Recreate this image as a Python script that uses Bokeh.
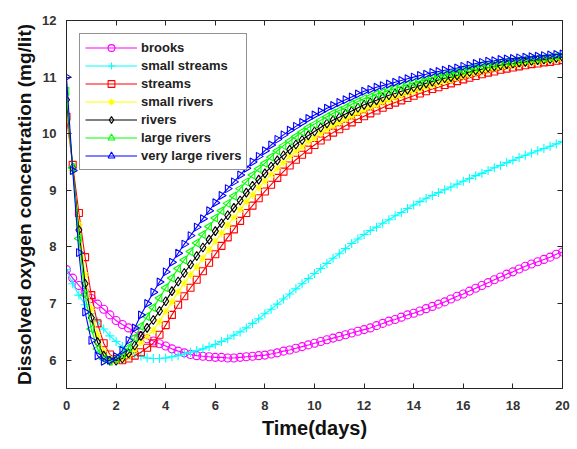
import numpy as np
from bokeh.plotting import figure
from bokeh.models import LinearAxis, Range1d, FixedTicker, Legend
from bokeh.embed import file_html
from bokeh.resources import INLINE

t = [i * 0.25 for i in range(81)]

brooks = [7.6, 7.45, 7.32, 7.2, 7.09, 6.99, 6.9, 6.8, 6.7, 6.63, 6.57, 6.5, 6.43, 6.38, 6.34, 6.29,
          6.25, 6.2, 6.16, 6.13, 6.1, 6.08, 6.07, 6.06, 6.05, 6.05, 6.04, 6.04, 6.05, 6.06, 6.07, 6.08,
          6.09, 6.11, 6.13, 6.16, 6.18, 6.21, 6.24, 6.27, 6.3, 6.33, 6.36, 6.39, 6.42, 6.45, 6.48, 6.51,
          6.54, 6.57, 6.61, 6.65, 6.69, 6.72, 6.76, 6.8, 6.83, 6.87, 6.91, 6.95, 6.99, 7.03, 7.08, 7.13,
          7.17, 7.22, 7.27, 7.32, 7.37, 7.42, 7.47, 7.52, 7.56, 7.61, 7.66, 7.7, 7.74, 7.78, 7.82, 7.87, 7.91]

small_streams = [7.6, 7.35, 7.15, 6.98, 6.82, 6.68, 6.55, 6.43, 6.33, 6.24, 6.17, 6.11, 6.07, 6.04, 6.03, 6.03,
                 6.04, 6.06, 6.08, 6.11, 6.14, 6.17, 6.2, 6.24, 6.28, 6.33, 6.38, 6.44, 6.5, 6.57, 6.65, 6.73,
                 6.82, 6.9, 6.99, 7.08, 7.17, 7.26, 7.35, 7.44, 7.53, 7.62, 7.71, 7.8, 7.88, 7.97, 8.06, 8.14,
                 8.22, 8.29, 8.35, 8.42, 8.48, 8.55, 8.61, 8.68, 8.74, 8.8, 8.86, 8.91, 8.96, 9.01, 9.06, 9.11,
                 9.16, 9.21, 9.26, 9.3, 9.35, 9.4, 9.44, 9.49, 9.53, 9.58, 9.62, 9.66, 9.7, 9.74, 9.78, 9.82, 9.86]

streams = [10.3, 9.45, 8.6, 7.82, 7.15, 6.65, 6.3, 6.1, 6.02, 6.0, 6.03, 6.08, 6.14, 6.22, 6.3, 6.45,
           6.62, 6.8, 6.98, 7.13, 7.28, 7.42, 7.57, 7.72, 7.87, 8.02, 8.17, 8.31, 8.46, 8.6, 8.73, 8.86,
           8.98, 9.1, 9.22, 9.33, 9.44, 9.54, 9.63, 9.72, 9.8, 9.88, 9.95, 10.02, 10.08, 10.14, 10.2, 10.26,
           10.31, 10.36, 10.41, 10.46, 10.51, 10.55, 10.59, 10.63, 10.67, 10.71, 10.75, 10.79, 10.82, 10.86, 10.89, 10.93,
           10.96, 10.99, 11.02, 11.05, 11.08, 11.1, 11.13, 11.15, 11.17, 11.19, 11.21, 11.23, 11.24, 11.26, 11.27, 11.29, 11.3]

small_rivers = [10.5, 9.35, 8.4, 7.5, 6.9, 6.45, 6.15, 6.03, 6.0, 6.02, 6.08, 6.18, 6.32, 6.42, 6.53, 6.68,
                6.86, 7.03, 7.21, 7.36, 7.51, 7.65, 7.8, 7.95, 8.1, 8.24, 8.39, 8.52, 8.66, 8.8, 8.92, 9.05,
                9.16, 9.28, 9.39, 9.49, 9.6, 9.69, 9.77, 9.86, 9.93, 10.01, 10.08, 10.14, 10.2, 10.26, 10.31, 10.37,
                10.42, 10.47, 10.51, 10.56, 10.6, 10.64, 10.68, 10.72, 10.75, 10.79, 10.83, 10.86, 10.89, 10.93, 10.95, 10.99,
                11.02, 11.05, 11.08, 11.1, 11.13, 11.15, 11.18, 11.19, 11.21, 11.23, 11.25, 11.26, 11.27, 11.29, 11.3, 11.32, 11.33]

rivers = [10.6, 9.4, 8.3, 7.35, 6.75, 6.32, 6.08, 5.99, 5.99, 6.03, 6.12, 6.26, 6.43, 6.57, 6.71, 6.87,
          7.04, 7.22, 7.39, 7.54, 7.69, 7.84, 7.99, 8.13, 8.28, 8.42, 8.56, 8.69, 8.82, 8.96, 9.08, 9.19,
          9.3, 9.42, 9.53, 9.62, 9.72, 9.81, 9.89, 9.97, 10.04, 10.11, 10.18, 10.24, 10.29, 10.35, 10.4, 10.46,
          10.51, 10.55, 10.59, 10.64, 10.68, 10.71, 10.75, 10.78, 10.82, 10.85, 10.89, 10.92, 10.95, 10.98, 11.0, 11.03,
          11.06, 11.09, 11.12, 11.14, 11.17, 11.19, 11.21, 11.23, 11.24, 11.26, 11.27, 11.29, 11.3, 11.31, 11.32, 11.34, 11.35]

large_rivers = [10.75, 9.4, 8.15, 7.15, 6.55, 6.2, 6.02, 5.98, 6.02, 6.1, 6.22, 6.4, 6.6, 6.77, 6.93, 7.1,
                7.28, 7.45, 7.62, 7.77, 7.92, 8.07, 8.22, 8.36, 8.51, 8.64, 8.77, 8.9, 9.03, 9.15, 9.27, 9.38,
                9.48, 9.59, 9.7, 9.79, 9.87, 9.95, 10.03, 10.11, 10.17, 10.24, 10.3, 10.36, 10.41, 10.46, 10.52, 10.57,
                10.62, 10.65, 10.7, 10.73, 10.77, 10.8, 10.84, 10.87, 10.9, 10.93, 10.96, 10.99, 11.02, 11.04, 11.07, 11.09,
                11.12, 11.14, 11.17, 11.2, 11.22, 11.23, 11.26, 11.27, 11.28, 11.3, 11.31, 11.32, 11.33, 11.34, 11.35, 11.37, 11.38]

very_large_rivers = [11.0, 9.35, 7.9, 6.85, 6.35, 6.08, 5.98, 6.0, 6.06, 6.17, 6.35, 6.57, 6.8, 7.0, 7.2, 7.38,
                     7.56, 7.73, 7.89, 8.05, 8.2, 8.35, 8.5, 8.64, 8.78, 8.91, 9.03, 9.15, 9.27, 9.39, 9.5, 9.6,
                     9.7, 9.8, 9.9, 9.98, 10.06, 10.13, 10.2, 10.27, 10.33, 10.39, 10.45, 10.5, 10.55, 10.6, 10.65, 10.7,
                     10.75, 10.78, 10.82, 10.85, 10.88, 10.91, 10.94, 10.97, 11.0, 11.03, 11.05, 11.08, 11.1, 11.12, 11.14, 11.16,
                     11.19, 11.21, 11.24, 11.26, 11.28, 11.29, 11.31, 11.32, 11.33, 11.34, 11.35, 11.36, 11.37, 11.38, 11.39, 11.4, 11.41]

names = ["brooks", "small streams", "streams", "small rivers", "rivers", "large rivers", "very large rivers"]
series = [brooks, small_streams, streams, small_rivers, rivers, large_rivers, very_large_rivers]
colors = ["#FF00FF", "#00FFFF", "#FF0000", "#FFFF00", "#000000", "#00FF00", "#0000FF"]
markers = ["circle", "cross", "square", "asterisk", "diamond", "triangle", "triangle"]
angles = [0, 0, 0, 0, 0, np.pi / 2, -np.pi / 2]
sizes = [8, 9, 7, 8, 9, 8, 8]

x_ticks = list(range(0, 21, 2))
y_ticks = [6, 7, 8, 9, 10, 11, 12]

p = figure(width=577, height=449, output_backend="svg", toolbar_location=None,
           x_range=Range1d(0, 20), y_range=Range1d(5.5, 12),
           min_border_left=66, min_border_right=15, min_border_top=20, min_border_bottom=61)
p.grid.visible = False
p.background_fill_color = "white"
p.border_fill_color = "white"
p.outline_line_color = "#262626"
p.outline_line_width = 1

FONT = "Liberation Sans"
for ax in (p.xaxis[0], p.yaxis[0]):
    ax.ticker = FixedTicker(ticks=x_ticks if ax is p.xaxis[0] else y_ticks)
    ax.major_tick_in = 5
    ax.major_tick_out = 0
    ax.minor_tick_line_color = None
    ax.axis_line_color = "#262626"
    ax.major_tick_line_color = "#262626"
    ax.major_label_text_font = FONT
    ax.major_label_text_font_size = "13px"
    ax.major_label_text_font_style = "bold"
    ax.major_label_text_color = "#333333"
    ax.axis_label_text_font = FONT
    ax.axis_label_text_font_style = "bold"
    ax.axis_label_text_color = "#111111"

p.xaxis[0].axis_label = "Time(days)"
p.xaxis[0].axis_label_text_font_size = "20px"
p.xaxis[0].major_label_standoff = 12
p.xaxis[0].axis_label_standoff = 4
p.yaxis[0].axis_label = "Dissolved oxygen concentration (mg/lit)"
p.yaxis[0].axis_label_text_font_size = "19px"
p.yaxis[0].major_label_standoff = 10
p.yaxis[0].axis_label_standoff = 4

for loc, tk in (("above", x_ticks), ("right", y_ticks)):
    ax2 = LinearAxis(ticker=FixedTicker(ticks=tk))
    ax2.major_tick_in = 5
    ax2.major_tick_out = 0
    ax2.minor_tick_line_color = None
    ax2.major_label_text_font_size = "1px"
    ax2.major_label_text_color = None
    ax2.major_label_standoff = 0
    ax2.axis_line_color = "#262626"
    ax2.major_tick_line_color = "#262626"
    p.add_layout(ax2, loc)

items = []
for name, ys, c, m, a, s in zip(names, series, colors, markers, angles, sizes):
    r1 = p.line(t, ys, line_color=c, line_width=1.1)
    r2 = p.scatter(t, ys, marker=m, angle=a, size=s, line_color=c, fill_color=None, line_width=1.1)
    items.append((name, [r1, r2]))

legend = Legend(items=items, location="top_left")
legend.margin = 13
legend.padding = 5
legend.spacing = 1
legend.glyph_width = 52
legend.glyph_height = 17
legend.label_height = 17
legend.label_standoff = 4
legend.label_text_font = FONT
legend.label_text_font_size = "13px"
legend.label_text_font_style = "bold"
legend.label_text_color = "#222222"
legend.border_line_color = "#262626"
legend.border_line_width = 1
legend.background_fill_color = "white"
legend.background_fill_alpha = 1
p.add_layout(legend, "center")

open("out.html", "w").write(file_html(p, INLINE))
